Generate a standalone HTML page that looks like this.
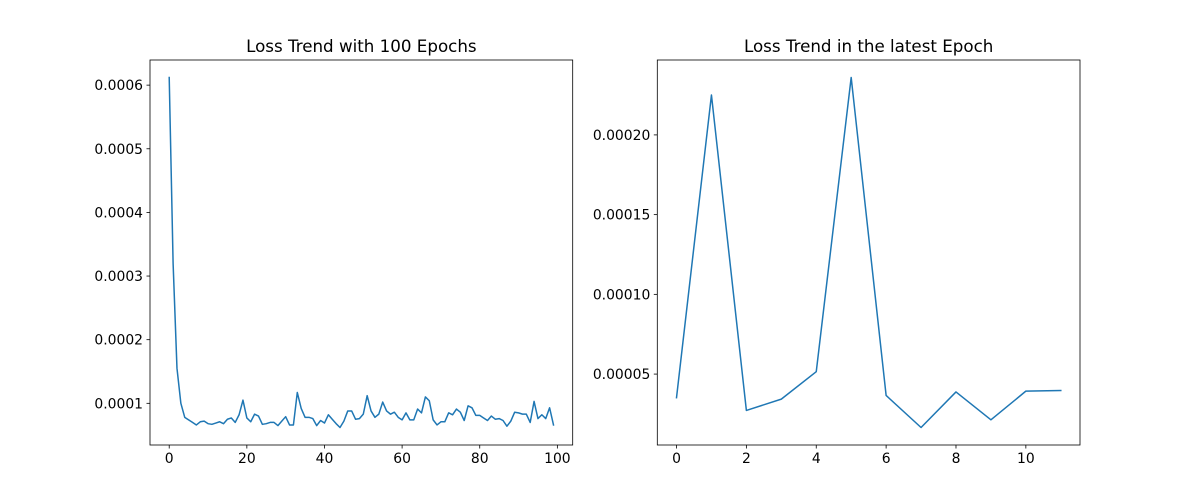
<!DOCTYPE html>
<html><head><meta charset="utf-8"><style>
html,body{margin:0;padding:0;background:#fff;width:1200px;height:500px;overflow:hidden}
svg{display:block;font-family:"DejaVu Sans","Liberation Sans",sans-serif}
</style></head><body>
<svg id="fig" width="1200" height="500" viewBox="0 0 1200 500" xmlns="http://www.w3.org/2000/svg"></svg>
<script>
const lossEpochs = [61.2,32,15.5,10,7.8,7.4,7.0,6.6,7.1,7.2,6.8,6.7,6.9,7.1,6.8,7.5,7.7,7.0,8.2,10.5,7.7,7.1,8.3,8.0,6.7,6.8,7.0,7.0,6.5,7.2,7.9,6.6,6.6,11.7,9.2,7.8,7.8,7.6,6.5,7.3,6.9,8.2,7.5,6.8,6.2,7.2,8.8,8.8,7.5,7.6,8.3,11.2,8.8,7.8,8.3,10.2,8.8,8.3,8.6,7.8,7.4,8.5,7.4,7.4,9.1,8.5,11.0,10.4,7.4,6.6,7.1,7.1,8.5,8.2,9.1,8.6,7.3,9.6,9.3,8.1,8.1,7.7,7.3,8.0,7.5,7.6,7.3,6.4,7.2,8.6,8.5,8.3,8.3,7.0,10.3,7.6,8.2,7.6,9.3,6.6].map(v=>v*1e-5);
const lossLatest = [3.52,22.5,2.72,3.43,5.15,23.6,3.66,1.65,3.88,2.13,3.93,3.97].map(v=>v*1e-5);
const leftXTicks = [0,20,40,60,80,100];
const leftYTicks = [0.0001,0.0002,0.0003,0.0004,0.0005,0.0006];
const leftYLabels = ["0.0001","0.0002","0.0003","0.0004","0.0005","0.0006"];
const rightXTicks = [0,2,4,6,8,10];
const rightYTicks = [0.00005,0.0001,0.00015,0.0002];
const rightYLabels = ["0.00005","0.00010","0.00015","0.00020"];

const NS="http://www.w3.org/2000/svg";
const svg=document.getElementById('fig');
function mk(tag,attrs,parent){const e=document.createElementNS(NS,tag);for(const k in attrs)e.setAttribute(k,attrs[k]);(parent||svg).appendChild(e);return e;}

function panel(key,x0,x1,y0,y1,data,xt,yt,ytl,title){
  const g=mk('g',{});
  
  
  const n=data.length;
  const xmin=0-(n-1)*0.05, xmax=(n-1)*1.05;
  const dmin=Math.min(...data), dmax=Math.max(...data), r=dmax-dmin;
  const ymin=dmin-r*0.05, ymax=dmax+r*0.05;
  const sx=v=>x0+(v-xmin)/(xmax-xmin)*(x1-x0);
  const sy=v=>y1-(v-ymin)/(ymax-ymin)*(y1-y0);
  const pts=data.map((v,i)=>sx(i).toFixed(2)+','+sy(v).toFixed(2)).join(' ');
  const line=mk('polyline',{points:pts,fill:'none',stroke:'#1f77b4','stroke-width':1.5,'stroke-linejoin':'round','stroke-linecap':'square'},g);
  
  
  const frame=mk('rect',{x:x0,y:y0,width:x1-x0,height:y1-y0,fill:'none',stroke:'#000','stroke-width':0.8},g);
  
  
  xt.forEach(t=>{const x=sx(t);
    mk('line',{x1:x,x2:x,y1:y1,y2:y1+3.5,stroke:'#000','stroke-width':0.8},g);
    const tx=mk('text',{x:x,y:y1+18,'font-size':13.9,'text-anchor':'middle',fill:'#000'},g);
    tx.textContent=t;
    
    
  });
  yt.forEach((t,i)=>{const y=sy(t);
    mk('line',{x1:x0-3.5,x2:x0,y1:y,y2:y,stroke:'#000','stroke-width':0.8},g);
    const tx=mk('text',{x:x0-7,y:y+5,'font-size':13.9,'text-anchor':'end',fill:'#000'},g);
    tx.textContent=ytl[i];
    
    
  });
  const tt=mk('text',{x:(x0+x1)/2,y:y0-8,'font-size':16.7,'text-anchor':'middle',fill:'#000'},g);
  tt.textContent=title;
  
  
}
panel('left',150,572.7,60,445,lossEpochs,leftXTicks,leftYTicks,leftYLabels,'Loss Trend with 100 Epochs');
panel('right',657.3,1080,60,445,lossLatest,rightXTicks,rightYTicks,rightYLabels,'Loss Trend in the latest Epoch');
</script>
</body></html>
